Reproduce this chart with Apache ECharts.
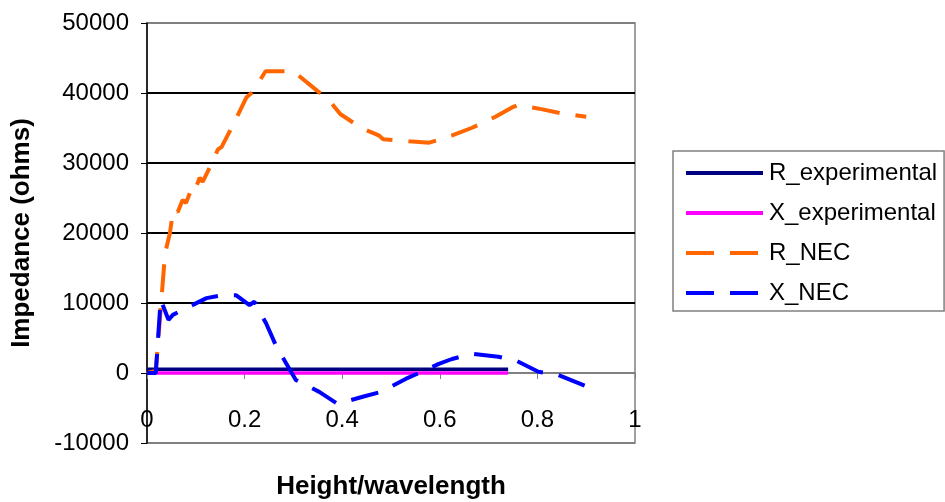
<!DOCTYPE html>
<html>
<head>
<meta charset="utf-8">
<script src="https://cdn.jsdelivr.net/npm/echarts@6/dist/echarts.min.js"></script>
<style>
  html, body { margin: 0; padding: 0; background: #fff; }
  #chart { width: 945px; height: 502px; }
</style>
</head>
<body>
<div id="chart"></div>
<script>
// Measured impedance (flat, up to h/λ = 0.74)
const expHeight = [0, 0.1, 0.2, 0.3, 0.4, 0.5, 0.6, 0.7, 0.74];
const rExpOhms  = [550, 550, 550, 550, 550, 550, 550, 550, 550];
const xExpOhms  = [0, 0, 0, 0, 0, 0, 0, 0, 0];

// NEC model resistance
const rNecHeight = [0, 0.018, 0.03, 0.037, 0.047, 0.051, 0.057, 0.063, 0.073, 0.08, 0.09, 0.096,
  0.108, 0.114, 0.129, 0.145, 0.153, 0.176, 0.204, 0.216, 0.243, 0.3, 0.349, 0.373, 0.396,
  0.439, 0.476, 0.484, 0.537, 0.578, 0.624, 0.665, 0.714, 0.747, 0.761, 0.808, 0.849, 0.9];
const rNecOhms = [0, 300, 10900, 17100, 20000, 22000, 23400, 23000, 24700, 24300, 26100, 25700,
  27900, 27300, 29400, 31900, 32300, 35400, 39400, 40100, 43100, 43100, 40300, 39000, 37000,
  35000, 33900, 33400, 33100, 32900, 33900, 35000, 36600, 37900, 38300, 37700, 37100, 36600];

// NEC model reactance
const xNecHeight = [0, 0.018, 0.028, 0.044, 0.053, 0.09, 0.122, 0.152, 0.183, 0.21, 0.22, 0.244,
  0.265, 0.285, 0.305, 0.353, 0.39, 0.442, 0.479, 0.53, 0.564, 0.598, 0.625, 0.665, 0.72,
  0.757, 0.802, 0.843, 0.9];
const xNecOhms = [0, 0, 10500, 7600, 8300, 9600, 10700, 11100, 11100, 9700, 10200, 7100,
  3800, 1400, -1000, -2700, -4400, -3400, -2700, -850, 200, 1300, 2000, 2750, 2330,
  1760, 190, -300, -1900];

const xTicks = { min: 0, max: 1, interval: 0.2 };
const yTicks = { min: -10000, max: 50000, interval: 10000 };

const pairs = (xs, ys) => xs.map((x, i) => [x, ys[i]]);
const FONT = "'Liberation Sans', Arial, sans-serif";

// plot box in pixels; the horizontal axis sits on the zero line
const PLOT = { left: 147, right: 310, top: 23, bottom: 59, height: 502 - 23 - 59 };
const zeroShift = PLOT.height * (0 - yTicks.min) / (yTicks.max - yTicks.min);

const chart = echarts.init(document.getElementById('chart'), null, { renderer: 'canvas' });

const lineSeries = (name, data, color, width, dashed) => ({
  name,
  type: 'line',
  data,
  symbol: 'none',
  showSymbol: false,
  animation: false,
  lineStyle: { color, width, type: dashed ? [28, 16] : 'solid', cap: 'butt' },
  itemStyle: { color }
});

chart.setOption({
  backgroundColor: '#fff',
  animation: false,
  grid: {
    left: PLOT.left, right: PLOT.right, top: PLOT.top, bottom: PLOT.bottom,
    containLabel: false,
    outerBoundsMode: 'none',
    show: true, borderColor: '#808080', borderWidth: 1.5, backgroundColor: 'transparent'
  },
  legend: {
    orient: 'vertical',
    left: 673, top: 151,
    padding: [10, 7, 6, 11],
    itemGap: 16,
    itemWidth: 77,
    itemHeight: 4,
    borderColor: '#808080',
    borderWidth: 1.5,
    backgroundColor: '#fff',
    itemStyle: { opacity: 0 },
    lineStyle: { width: 4, type: 'inherit' },
    textStyle: { fontFamily: FONT, fontSize: 24, color: '#000', padding: [0, 0, 0, 1] },
    data: ['R_experimental', 'X_experimental', 'R_NEC', 'X_NEC']
  },
  xAxis: {
    type: 'value',
    position: 'bottom',
    offset: -zeroShift,
    min: xTicks.min, max: xTicks.max, interval: xTicks.interval,
    name: 'Height/wavelength',
    nameLocation: 'middle',
    nameGap: 101,
    nameTextStyle: { fontFamily: FONT, fontSize: 26, fontWeight: 'bold', color: '#000' },
    axisLine: { onZero: false, lineStyle: { color: '#808080', width: 1.5 } },
    axisTick: { show: true, inside: false, length: 6, lineStyle: { color: '#808080', width: 1 } },
    axisLabel: {
      fontFamily: FONT, fontSize: 24, color: '#000', margin: 35,
      formatter: v => String(+v.toFixed(1))
    },
    splitLine: { show: false }
  },
  yAxis: {
    type: 'value',
    min: yTicks.min, max: yTicks.max, interval: yTicks.interval,
    name: 'Impedance (ohms)',
    nameLocation: 'middle',
    nameRotate: 90,
    nameGap: 112,
    nameTextStyle: { fontFamily: FONT, fontSize: 26, fontWeight: 'bold', color: '#000' },
    axisLine: { show: true, onZero: false, lineStyle: { color: '#000', width: 1.5 } },
    axisTick: { show: true, inside: false, length: 6, lineStyle: { color: '#000', width: 1 } },
    axisLabel: { fontFamily: FONT, fontSize: 24, color: '#000', margin: 18, formatter: v => String(v) },
    splitLine: {
      show: true,
      lineStyle: { color: ['#808080', '#808080', '#000', '#000', '#000', '#000', '#808080'], width: 2 }
    }
  },
  series: [
    lineSeries('R_experimental', pairs(expHeight, rExpOhms), '#000080', 3.5, false),
    lineSeries('X_experimental', pairs(expHeight, xExpOhms), '#FF00FF', 3.5, false),
    lineSeries('R_NEC', pairs(rNecHeight, rNecOhms), '#FF6600', 4, true),
    lineSeries('X_NEC', pairs(xNecHeight, xNecOhms), '#0000FF', 4, true)
  ]
});
</script>
</body>
</html>
